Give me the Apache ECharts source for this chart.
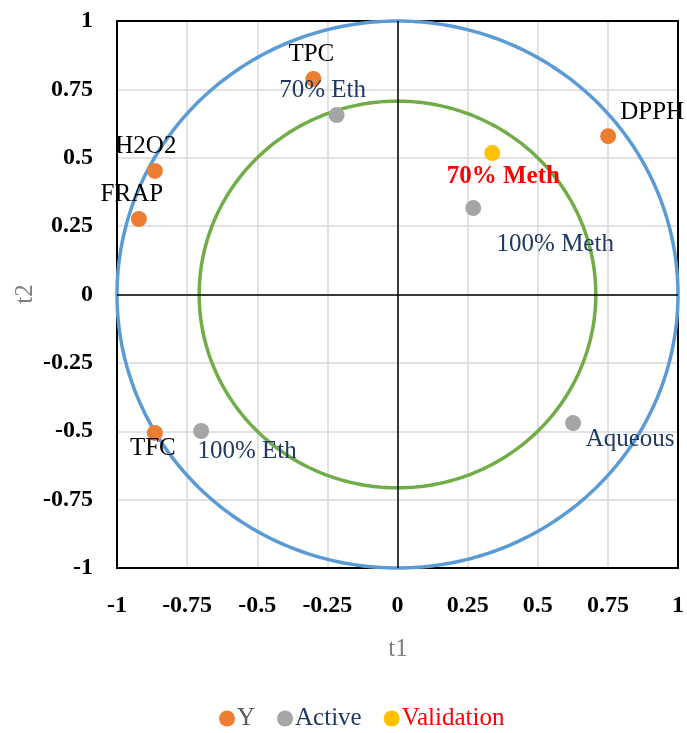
<!DOCTYPE html>
<html><head><meta charset="utf-8">
<script src="https://cdn.jsdelivr.net/npm/echarts@6/dist/echarts.min.js"></script>
<style>html,body{margin:0;padding:0;background:#fff}#c{width:687px;height:733px}</style>
</head><body><div id="c"></div>
<script>
// ---- data ----
const yNames = ['TPC', 'H2O2', 'FRAP', 'DPPH', 'TFC'];
const yX = [-0.30, -0.865, -0.922, 0.751, -0.865];
const yY = [0.788, 0.452, 0.276, 0.579, -0.506];

const activeNames = ['70% Eth', '100% Meth', 'Aqueous', '100% Eth'];
const activeX = [-0.217, 0.270, 0.626, -0.70];
const activeY = [0.656, 0.316, -0.470, -0.499];

const validNames = ['70% Meth'];
const validX = [0.338];
const validY = [0.517];

const circleRadii = [1, 0.707];
const tickValues = [-1, -0.75, -0.5, -0.25, 0, 0.25, 0.5, 0.75, 1];
const xTitle = 't1';
const yTitle = 't2';

// ---- styling (not data) ----
const FONT = "'Liberation Serif','Times New Roman',serif";
const labelOffsets = {
  'TPC': [-2, -25], 'H2O2': [-9, -24], 'FRAP': [-7, -25], 'DPPH': [44, -24], 'TFC': [-2, 16],
  '70% Eth': [-14, -25], '100% Meth': [82, 36], 'Aqueous': [57, 16], '100% Eth': [46, 20],
  '70% Meth': [11, 23]
};
const circleColors = ['#5B9BD5', '#70AD47'];

function pts(names, xs, ys, color, bold) {
  return names.map((n, i) => ({
    name: n,
    value: [xs[i], ys[i]],
    label: {
      show: true, formatter: n, position: 'inside', offset: labelOffsets[n],
      color: color, fontFamily: FONT, fontSize: 25, fontWeight: bold ? 'bold' : 'normal'
    }
  }));
}

const chart = echarts.init(document.getElementById('c'));
const axisCommon = {
  type: 'value', min: -1, max: 1, interval: 0.25,
  axisTick: { show: false },
  axisLine: { show: true, onZero: false, lineStyle: { color: '#000', width: 2 } },
  splitLine: { show: true, lineStyle: { color: '#D9D9D9', width: 1.5 } },
  axisLabel: {
    color: '#000', fontFamily: FONT, fontSize: 24, fontWeight: 'bold',
    formatter: v => String(tickValues.find(t => Math.abs(t - v) < 1e-9) ?? v)
  }
};
chart.setOption({
  animation: false,
  grid: { left: 117, right: 8, top: 21, bottom: 165 },
  graphic: [
    { type: 'text', x: 398, y: 649, silent: true,
      style: { text: xTitle, fill: '#7F7F7F', font: "25px 'Liberation Serif','Times New Roman',serif",
        align: 'center', verticalAlign: 'middle' } },
    { type: 'text', x: 25, y: 294, rotation: Math.PI / 2, silent: true,
      style: { text: yTitle, fill: '#7F7F7F', font: "25px 'Liberation Serif','Times New Roman',serif",
        align: 'center', verticalAlign: 'middle' } }
  ],
  xAxis: [
    Object.assign({}, axisCommon, {
      position: 'bottom',
      axisLabel: Object.assign({}, axisCommon.axisLabel, { margin: 26 })
    }),
    Object.assign({}, axisCommon, {
      position: 'top', axisLabel: { show: false }, splitLine: { show: false }
    })
  ],
  yAxis: [
    Object.assign({}, axisCommon, {
      position: 'left',
      axisLabel: Object.assign({}, axisCommon.axisLabel, { margin: 24 })
    }),
    Object.assign({}, axisCommon, {
      position: 'right', axisLabel: { show: false }, splitLine: { show: false }
    })
  ],
  legend: {
    top: 701, left: 214, icon: 'circle', itemWidth: 16, itemHeight: 16, itemGap: 22,
    textStyle: { fontFamily: FONT, fontSize: 25, padding: [0, 0, 0, -3] },
    data: [
      { name: 'Y', textStyle: { color: '#595959' } },
      { name: 'Active', textStyle: { color: '#1F3864' } },
      { name: 'Validation', textStyle: { color: '#FF0000' } }
    ]
  },
  series: [
    {
      type: 'custom', name: 'circles', z: 1, silent: true,
      data: circleRadii.map((r, i) => [0, 0, r, i]),
      encode: { x: 0, y: 1 },
      clip: false,
      renderItem: function (params, api) {
        const r = api.value(2), idx = api.value(3);
        const points = [];
        for (let k = 0; k <= 360; k++) {
          const a = k * Math.PI / 180;
          points.push(api.coord([r * Math.cos(a), r * Math.sin(a)]));
        }
        return { type: 'polyline', shape: { points: points },
          style: { stroke: circleColors[idx], lineWidth: 3.5, fill: null } };
      },
      markLine: {
        silent: true, symbol: 'none', label: { show: false },
        lineStyle: { color: '#000', width: 1.5, type: 'solid' },
        data: [{ xAxis: 0 }, { yAxis: 0 }]
      }
    },
    { type: 'scatter', name: 'Y', z: 3, symbolSize: 16, itemStyle: { color: '#ED7D31', opacity: 1 },
      data: pts(yNames, yX, yY, '#000000', false) },
    { type: 'scatter', name: 'Active', z: 3, symbolSize: 16, itemStyle: { color: '#A5A5A5', opacity: 1 },
      data: pts(activeNames, activeX, activeY, '#1F3864', false) },
    { type: 'scatter', name: 'Validation', z: 3, symbolSize: 16, itemStyle: { color: '#FFC000', opacity: 1 },
      data: pts(validNames, validX, validY, '#FF0000', true) }
  ]
});
</script></body></html>
